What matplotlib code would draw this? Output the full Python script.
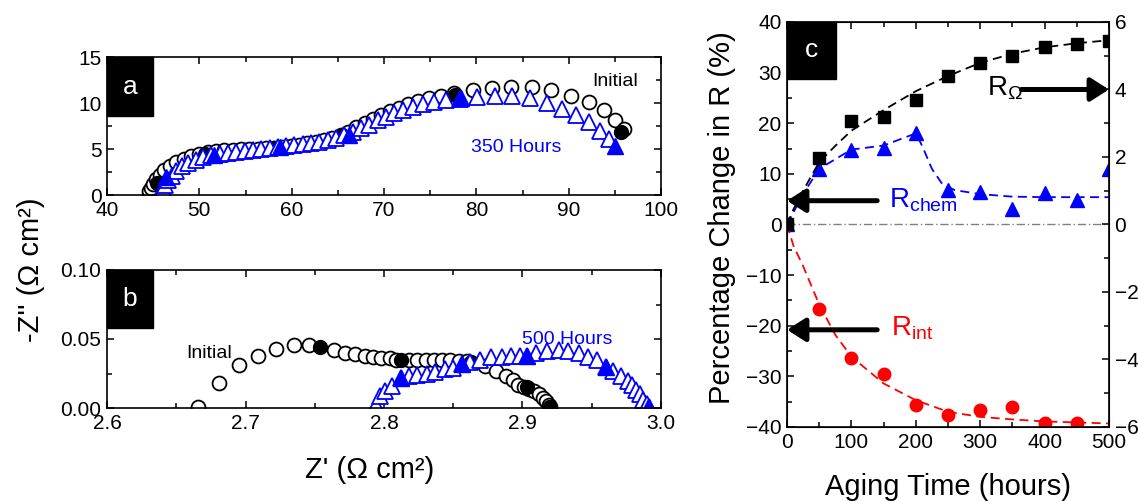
import matplotlib
matplotlib.use('Agg')
import matplotlib.pyplot as plt
from matplotlib.patches import Rectangle
from matplotlib.ticker import MultipleLocator

plt.rcParams['font.family'] = ['Liberation Sans', 'DejaVu Sans']
plt.rcParams['mathtext.fontset'] = 'custom'
plt.rcParams['mathtext.rm'] = 'Liberation Sans'
plt.rcParams['mathtext.it'] = 'Liberation Sans:italic'
plt.rcParams['mathtext.bf'] = 'Liberation Sans:bold'

# ---- panel a: Nyquist, initial vs 350 h ----
a_init_z = [44.5, 44.6, 44.8, 45.0, 45.3, 45.7, 46.2, 46.8, 47.5, 48.3, 49.1, 50.0,
            50.9, 51.8, 52.7, 53.6, 54.5, 55.4, 56.3, 57.2, 58.1, 59.0, 59.9, 60.8,
            61.7, 62.6, 63.5, 64.4, 65.3, 66.1, 67.0, 67.9, 68.8, 69.7, 70.6, 71.6,
            72.6, 73.7, 74.9, 76.2, 77.6, 79.6, 81.7, 83.8, 86.0, 88.1, 90.2, 92.2,
            93.8, 95.0, 96.0]
a_init_y = [0.0, 0.4, 0.8, 1.2, 1.7, 2.2, 2.7, 3.2, 3.6, 3.95, 4.25, 4.5,
            4.65, 4.75, 4.85, 4.9, 4.95, 5.0, 5.05, 5.1, 5.15, 5.25, 5.35, 5.45,
            5.6, 5.75, 5.95, 6.15, 6.5, 6.9, 7.35, 7.8, 8.25, 8.7, 9.1, 9.5,
            9.85, 10.2, 10.5, 10.8, 11.05, 11.4, 11.6, 11.75, 11.75, 11.4, 10.8, 10.1,
            9.2, 8.1, 7.2]
a_init_fz = [45.4, 50.6, 58.1, 65.4, 77.7, 95.7]
a_init_fy = [1.3, 4.5, 5.06, 6.5, 10.9, 6.8]

a_350_z = [45.6, 45.9, 46.1, 46.3, 46.6, 47.0, 47.5, 48.1, 48.8, 49.6, 50.4, 51.3,
           52.2, 53.1, 54.0, 54.9, 55.8, 56.7, 57.6, 58.5, 59.4, 60.3, 61.2, 62.1,
           63.0, 63.9, 64.8, 65.7, 66.6, 67.5, 68.4, 69.3, 70.2, 71.1, 72.1, 73.1,
           74.2, 75.4, 76.7, 78.2, 80.1, 82.0, 83.9, 85.8, 87.6, 89.3, 90.8, 92.2,
           93.4, 94.4]
a_350_y = [0.0, 0.3, 0.7, 1.1, 1.6, 2.1, 2.6, 3.1, 3.5, 3.85, 4.15, 4.35,
           4.5, 4.6, 4.7, 4.8, 4.9, 5.0, 5.1, 5.2, 5.3, 5.4, 5.5, 5.6,
           5.75, 5.95, 6.2, 6.5, 6.85, 7.25, 7.65, 8.1, 8.5, 8.9, 9.25, 9.6,
           9.9, 10.15, 10.35, 10.45, 10.6, 10.75, 10.75, 10.5, 10.0, 9.4, 8.7, 7.9,
           7.0, 6.1]
a_350_fz = [46.4, 51.6, 58.7, 66.2, 78.3, 95.0]
a_350_fy = [2.0, 4.4, 5.25, 6.5, 10.5, 5.3]

# ---- panel b: Nyquist, initial vs 500 h ----
b_init_z = [2.666, 2.681, 2.695, 2.709, 2.722, 2.735, 2.746, 2.764, 2.772, 2.779,
            2.786, 2.792, 2.798, 2.804, 2.809, 2.818, 2.824, 2.830, 2.836, 2.842,
            2.848, 2.854, 2.860, 2.873, 2.881, 2.888, 2.893, 2.897, 2.901, 2.905,
            2.908, 2.912, 2.915, 2.917, 2.919, 2.920]
b_init_y = [0.001, 0.018, 0.031, 0.038, 0.043, 0.046, 0.046, 0.042, 0.040, 0.039,
            0.038, 0.037, 0.036, 0.036, 0.035, 0.035, 0.035, 0.035, 0.035, 0.035,
            0.035, 0.034, 0.034, 0.0305, 0.027, 0.023, 0.020, 0.017, 0.0155, 0.014,
            0.012, 0.010, 0.0075, 0.005, 0.0025, 0.0005]
b_init_fz = [2.754, 2.812, 2.863, 2.903, 2.920]
b_init_fy = [0.044, 0.035, 0.033, 0.015, 0.001]

b_500_z = [2.794, 2.797, 2.801, 2.806, 2.812, 2.818, 2.824, 2.831, 2.837, 2.844,
           2.850, 2.856, 2.862, 2.869, 2.877, 2.885, 2.892, 2.898, 2.903, 2.910,
           2.918, 2.926, 2.933, 2.941, 2.947, 2.954, 2.960, 2.965, 2.971, 2.976,
           2.979, 2.982, 2.985, 2.987, 2.990, 2.991]
b_500_y = [0.0024, 0.0085, 0.012, 0.016, 0.022, 0.023, 0.024, 0.025, 0.026, 0.028,
           0.029, 0.032, 0.033, 0.035, 0.037, 0.037, 0.038, 0.038, 0.038, 0.040,
           0.041, 0.042, 0.041, 0.040, 0.037, 0.035, 0.030, 0.027, 0.023, 0.0195,
           0.017, 0.0134, 0.0098, 0.006, 0.003, 0.001]
b_500_fz = [2.812, 2.856, 2.903, 2.960, 2.991]
b_500_fy = [0.022, 0.032, 0.038, 0.030, 0.001]

# ---- panel c: percentage change vs aging time ----
hours = [0, 50, 100, 150, 200, 250, 300, 350, 400, 450, 500]
r_ohm = [0.0, 1.98, 3.06, 3.18, 3.69, 4.40, 4.79, 4.98, 5.27, 5.36, 5.45]   # right axis
r_chem = [0.0, 10.9, 14.7, 15.2, 18.0, 6.8, 6.4, 3.1, 6.2, 4.9, 10.9]       # left axis
r_int_h = [0, 50, 100, 150, 200, 250, 300, 350, 400, 450]
r_int = [0.0, -16.6, -26.4, -29.6, -35.6, -37.6, -36.6, -36.1, -39.2, -39.2]

fit_ohm_h = [0, 10, 25, 50, 75, 100, 150, 200, 250, 300, 350, 400, 450, 500]
fit_ohm = [0.0, 0.45, 1.0, 1.85, 2.33, 2.78, 3.39, 3.95, 4.40, 4.79, 5.06, 5.25, 5.37, 5.46]
fit_chem_h = [0, 25, 50, 100, 150, 200, 210, 225, 240, 260, 300, 350, 400, 450, 500]
fit_chem = [0.0, 6.0, 11.0, 14.8, 15.6, 18.0, 15.5, 11.0, 8.2, 6.8, 6.0, 5.5, 5.4, 5.4, 5.4]
fit_int_h = [0, 10, 25, 50, 75, 100, 150, 200, 250, 300, 350, 400, 450, 500]
fit_int = [0.0, -4.2, -8.2, -15.8, -21.8, -26.1, -31.4, -34.7, -37.0, -38.0, -38.5, -38.9, -39.1, -39.3]

W, H = 1138, 501
fig = plt.figure(figsize=(W / 100, H / 100), dpi=100)


def px_axes(left, top, right, bottom):
    return fig.add_axes([left / W, 1 - bottom / H, (right - left) / W, (bottom - top) / H])


def style(ax, right=True):
    ax.tick_params(which='both', direction='in', top=True, right=right,
                   labelsize=15, width=1.1, pad=4)
    ax.tick_params(which='major', length=5)
    ax.tick_params(which='minor', length=3.5)
    for s in ax.spines.values():
        s.set_linewidth(1.2)


def letter_box(ax, w_px, h_px, letter):
    bb = ax.get_position()
    fw = w_px / (bb.width * W)
    fh = h_px / (bb.height * H)
    ax.add_patch(Rectangle((0, 1 - fh), fw, fh, transform=ax.transAxes,
                           color='black', zorder=10, clip_on=False))
    ax.text(fw / 2, 1 - fh / 2, letter, transform=ax.transAxes, color='white',
            fontsize=19, ha='center', va='center', zorder=11)


open_k = dict(ls='none', marker='o', mfc='white', mec='black', mew=1.3)
open_b = dict(ls='none', marker='^', mfc='white', mec='blue', mew=1.3)

# panel a
ax_a = px_axes(107, 57, 661, 195)
ax_a.plot(a_init_z, a_init_y, ms=10, **open_k)
ax_a.plot(a_init_fz, a_init_fy, ls='none', marker='o', ms=10, color='black')
ax_a.plot(a_350_z, a_350_y, ms=11, **open_b)
ax_a.plot(a_350_fz, a_350_fy, ls='none', marker='^', ms=11, color='blue')
ax_a.set_xlim(40, 100)
ax_a.set_ylim(0, 15)
ax_a.xaxis.set_major_locator(MultipleLocator(10))
ax_a.xaxis.set_minor_locator(MultipleLocator(5))
ax_a.yaxis.set_major_locator(MultipleLocator(5))
ax_a.yaxis.set_minor_locator(MultipleLocator(2.5))
style(ax_a)
ax_a.text(92.6, 12.3, 'Initial', fontsize=14, va='center', ha='left')
ax_a.text(79.4, 5.2, '350 Hours', fontsize=14, va='center', ha='left', color='blue')
letter_box(ax_a, 46, 59, 'a')

# panel b
ax_b = px_axes(107, 270, 661, 408)
ax_b.plot(b_init_z, b_init_y, ms=10, **open_k)
ax_b.plot(b_init_fz, b_init_fy, ls='none', marker='o', ms=10, color='black')
ax_b.plot(b_500_z, b_500_y, ms=11, **open_b)
ax_b.plot(b_500_fz, b_500_fy, ls='none', marker='^', ms=11, color='blue')
ax_b.set_xlim(2.6, 3.0)
ax_b.set_ylim(0, 0.1)
ax_b.xaxis.set_major_locator(MultipleLocator(0.1))
ax_b.xaxis.set_minor_locator(MultipleLocator(0.05))
ax_b.yaxis.set_major_locator(MultipleLocator(0.05))
ax_b.yaxis.set_minor_locator(MultipleLocator(0.025))
ax_b.xaxis.set_major_formatter(lambda v, p: f'{v:.1f}')
ax_b.yaxis.set_major_formatter(lambda v, p: f'{v:.2f}')
style(ax_b)
ax_b.text(2.657, 0.0394, 'Initial', fontsize=14, va='center', ha='left')
ax_b.text(2.900, 0.050, '500 Hours', fontsize=14, va='center', ha='left', color='blue')
letter_box(ax_b, 46, 58, 'b')

fig.text(31 / W, 1 - 270 / H, "-Z'' (\u03a9 cm\u00b2)", rotation=90,
         ha='center', va='center', fontsize=21)
fig.text(370 / W, 1 - 470 / H, "Z' (\u03a9 cm\u00b2)", ha='center', va='center', fontsize=21)

# panel c
ax_c = px_axes(787, 22, 1109, 427)
ax_c2 = ax_c.twinx()
ax_c.axhline(0, color='gray', lw=1, ls=(0, (6, 2, 1, 2)))
ax_c.plot(fit_chem_h, fit_chem, color='blue', lw=1.3, ls=(0, (5, 3)))
ax_c.plot(hours, r_chem, ls='none', marker='^', ms=10, color='blue')
ax_c.plot(fit_int_h, fit_int, color='red', lw=1.3, ls=(0, (5, 3)))
ax_c.plot(r_int_h, r_int, ls='none', marker='o', ms=9, color='red')
ax_c2.plot(fit_ohm_h, fit_ohm, color='black', lw=1.3, ls=(0, (5, 3)))
ax_c2.plot(hours, r_ohm, ls='none', marker='s', ms=8.5, color='black')

ax_c.set_xlim(0, 500)
ax_c.set_ylim(-40, 40)
ax_c2.set_ylim(-6, 6)
ax_c.xaxis.set_major_locator(MultipleLocator(100))
ax_c.xaxis.set_minor_locator(MultipleLocator(50))
ax_c.yaxis.set_major_locator(MultipleLocator(10))
ax_c.yaxis.set_minor_locator(MultipleLocator(5))
ax_c2.yaxis.set_major_locator(MultipleLocator(2))
ax_c2.yaxis.set_minor_locator(MultipleLocator(1))
style(ax_c, right=False)
ax_c2.tick_params(which='both', direction='in', labelsize=15, width=1.1, pad=4)
ax_c2.tick_params(which='major', length=5)
ax_c2.tick_params(which='minor', length=3.5)

arrow = dict(arrowstyle='-|>,head_length=0.55,head_width=0.35', lw=3.6,
             color='black', mutation_scale=20, shrinkA=0, shrinkB=0)
ax_c2.annotate('', xy=(500, 4), xytext=(364, 4), arrowprops=arrow, annotation_clip=False)
ax_c.annotate('', xy=(0, 4.7), xytext=(140, 4.7), arrowprops=arrow, annotation_clip=False)
ax_c.annotate('', xy=(0, -20.8), xytext=(140, -20.8), arrowprops=arrow, annotation_clip=False)
ax_c2.text(310, 3.81, r'R$_{\mathregular{\Omega}}$', fontsize=20, va='baseline', ha='left')
ax_c.text(159, 3.3, r'R$_{\mathregular{chem}}$', fontsize=20, va='baseline', ha='left', color='blue')
ax_c.text(161, -22.0, r'R$_{\mathregular{int}}$', fontsize=20, va='baseline', ha='left', color='red')
letter_box(ax_c, 49, 57, 'c')

fig.text(722 / W, 1 - 218 / H, 'Percentage Change in R (%)', rotation=90,
         ha='center', va='center', fontsize=21)
fig.text(948 / W, 1 - 487 / H, 'Aging Time (hours)', ha='center', va='center', fontsize=21)

fig.savefig('out.png', dpi=100)
